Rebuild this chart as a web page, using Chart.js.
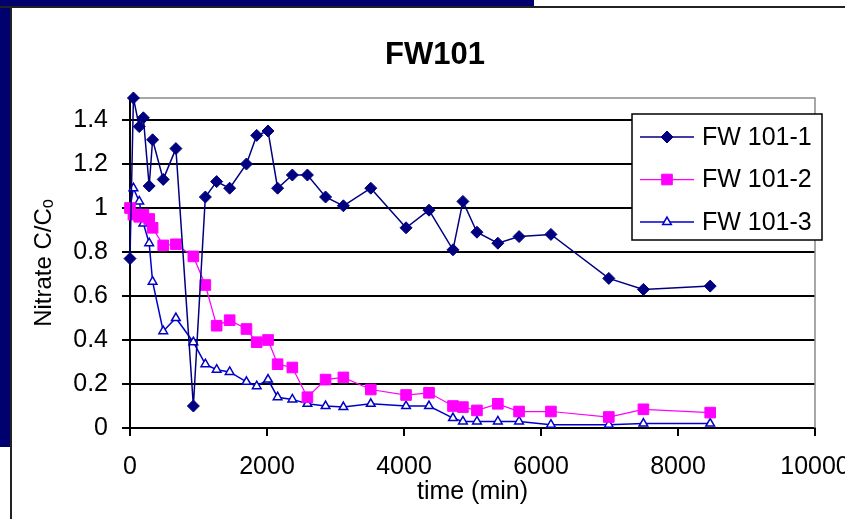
<!DOCTYPE html>
<html>
<head>
<meta charset="utf-8">
<title>FW101</title>
<script src="https://cdn.jsdelivr.net/npm/chart.js@4.4.1/dist/chart.umd.min.js"></script>
<style>
  html, body { margin: 0; padding: 0; background: #fff; }
  #wrap { position: relative; width: 845px; height: 519px; overflow: hidden; }
  .navy { position: absolute; background: #00006e; }
  .rule { position: absolute; background: #222; }
  #chart { position: absolute; left: 0; top: 0; }
</style>
</head>
<body>
<div id="wrap">
  <div class="navy" style="left:0;top:0;width:534px;height:6px"></div>
  <div class="navy" style="left:0;top:0;width:10px;height:447px"></div>
  <div class="rule" style="left:0;top:6px;width:845px;height:2px"></div>
  <div class="rule" style="left:10px;top:6px;width:2px;height:513px"></div>
  <canvas id="chart" width="845" height="519"></canvas>
</div>
<script>
// sampling times (min)
const times = [0, 50, 135, 195, 280, 330, 485, 670, 925, 1100, 1265, 1455, 1700, 1850, 2015, 2155,
               2370, 2590, 2855, 3115, 3515, 4030, 4365, 4715, 4860, 5065, 5370, 5680, 6145, 6990, 7495, 8470];

// nitrate C/Co per column
const fw101_1 = [0.77, 1.50, 1.37, 1.41, 1.10, 1.31, 1.13, 1.27, 0.10, 1.05, 1.12, 1.09, 1.20, 1.33, 1.35, 1.09,
                 1.15, 1.15, 1.05, 1.01, 1.09, 0.91, 0.99, 0.81, 1.03, 0.89, 0.84, 0.87, 0.88, 0.68, 0.63, 0.645];
const fw101_2 = [1.00, 0.97, 0.96, 0.97, 0.95, 0.91, 0.83, 0.835, 0.78, 0.65, 0.465, 0.49, 0.45, 0.39, 0.40, 0.29,
                 0.275, 0.14, 0.22, 0.23, 0.175, 0.15, 0.16, 0.10, 0.095, 0.08, 0.11, 0.075, 0.075, 0.05, 0.085, 0.07];
const fw101_3 = [1.00, 1.09, 1.03, 0.93, 0.84, 0.665, 0.44, 0.50, 0.39, 0.29, 0.265, 0.255, 0.21, 0.19, 0.22, 0.14,
                 0.13, 0.11, 0.10, 0.095, 0.11, 0.10, 0.10, 0.045, 0.03, 0.03, 0.03, 0.03, 0.015, 0.015, 0.02, 0.02];

const seriesNames = ['FW 101-1', 'FW 101-2', 'FW 101-3'];
const xTicks = [0, 2000, 4000, 6000, 8000, 10000];

const FONT = "'Liberation Sans', Arial, sans-serif";

function toPoints(values) {
    return times.map((t, i) => ({ x: t, y: values[i] }));
}

// plot frame, title and boxed legend
const decorPlugin = {
    id: 'decor',
    beforeDatasetsDraw(chart) {
        const { ctx, chartArea: a } = chart;
        ctx.save();
        ctx.strokeStyle = '#8a8a8a';
        ctx.lineWidth = 1.5;
        ctx.beginPath();
        ctx.moveTo(a.left, a.top);
        ctx.lineTo(a.right, a.top);
        ctx.lineTo(a.right, a.bottom);
        ctx.stroke();
        ctx.restore();
    },
    afterDraw(chart) {
        const { ctx } = chart;
        ctx.save();
        ctx.fillStyle = '#000';
        ctx.font = "bold 31px " + FONT;
        ctx.textAlign = 'center';
        ctx.textBaseline = 'middle';
        ctx.fillText('FW101', 435, 55);

        // legend box
        const bx = 632, by = 114, bw = 190, bh = 126;
        ctx.fillStyle = '#fff';
        ctx.fillRect(bx, by, bw, bh);
        ctx.strokeStyle = '#000';
        ctx.lineWidth = 1.5;
        ctx.strokeRect(bx, by, bw, bh);

        ctx.font = "25px " + FONT;
        ctx.textAlign = 'left';
        chart.data.datasets.forEach((ds, i) => {
            const y = by + 23 + i * 42.5;
            ctx.strokeStyle = ds.borderColor;
            ctx.lineWidth = ds.borderWidth;
            ctx.beginPath();
            ctx.moveTo(bx + 8, y);
            ctx.lineTo(bx + 62, y);
            ctx.stroke();
            ctx.fillStyle = ds.pointBackgroundColor;
            ctx.strokeStyle = ds.pointBorderColor;
            ctx.lineWidth = ds.pointBorderWidth;
            Chart.helpers.drawPoint(ctx, {
                pointStyle: ds.pointStyle,
                radius: ds.pointRadius,
                rotation: 0,
                borderWidth: ds.pointBorderWidth
            }, bx + 35, y);
            ctx.fillStyle = '#000';
            ctx.fillText(seriesNames[i], bx + 70, y + 1);
        });
        ctx.restore();
    }
};

new Chart(document.getElementById('chart'), {
    type: 'scatter',
    data: {
        datasets: [
            {
                label: seriesNames[0],
                data: toPoints(fw101_1),
                showLine: true,
                clip: 10,
                borderColor: '#000080',
                borderWidth: 1.5,
                pointStyle: 'rectRot',
                pointRadius: 6,
                pointBackgroundColor: '#000080',
                pointBorderColor: '#000080',
                pointBorderWidth: 1
            },
            {
                label: seriesNames[1],
                data: toPoints(fw101_2),
                showLine: true,
                clip: 10,
                borderColor: '#ff00ff',
                borderWidth: 1.25,
                pointStyle: 'rect',
                pointRadius: 7.5,
                pointBackgroundColor: '#ff00ff',
                pointBorderColor: '#ff00ff',
                pointBorderWidth: 1
            },
            {
                label: seriesNames[2],
                data: toPoints(fw101_3),
                showLine: true,
                clip: 10,
                borderColor: '#0000cc',
                borderWidth: 1.5,
                pointStyle: 'triangle',
                pointRadius: 5,
                pointBackgroundColor: '#ffffe8',
                pointBorderColor: '#0000cc',
                pointBorderWidth: 1.5
            }
        ]
    },
    options: {
        responsive: false,
        animation: false,
        layout: { padding: { left: 0, right: 30, top: 98, bottom: 0 } },
        plugins: {
            legend: { display: false },
            title: { display: false },
            tooltip: { enabled: false }
        },
        scales: {
            x: {
                type: 'linear',
                min: 0,
                max: 10000,
                afterBuildTicks: (scale) => { scale.ticks = xTicks.map(v => ({ value: v })); },
                afterFit: (scale) => { scale.height = 91; scale.paddingLeft = 0; scale.paddingRight = 0; },
                ticks: {
                    color: '#000',
                    font: { family: FONT, size: 25 },
                    padding: 16,
                    maxRotation: 0,
                    autoSkip: false,
                    callback: (v) => String(v)
                },
                grid: { drawOnChartArea: false, drawTicks: true, tickLength: 8, color: '#000', lineWidth: 2 },
                border: { color: '#000', width: 2 },
                title: {
                    display: true,
                    text: 'time (min)',
                    color: '#000',
                    font: { family: FONT, size: 25 },
                    padding: { top: 0, bottom: 12 }
                }
            },
            y: {
                min: 0,
                max: 1.5,
                afterFit: (scale) => { scale.width = 130; scale.paddingTop = 0; scale.paddingBottom = 0; },
                ticks: {
                    stepSize: 0.2,
                    includeBounds: false,
                    color: '#000',
                    font: { family: FONT, size: 25 },
                    padding: 14,
                    callback: (v) => String(Math.round(v * 10) / 10)
                },
                grid: { color: '#000', lineWidth: 2, tickLength: 8 },
                border: { color: '#000', width: 2 },
                title: {
                    display: true,
                    text: 'Nitrate C/C\u2092',
                    color: '#000',
                    font: { family: FONT, size: 24 },
                    padding: { top: 30, bottom: 0 }
                }
            }
        }
    },
    plugins: [decorPlugin]
});
</script>
</body>
</html>
